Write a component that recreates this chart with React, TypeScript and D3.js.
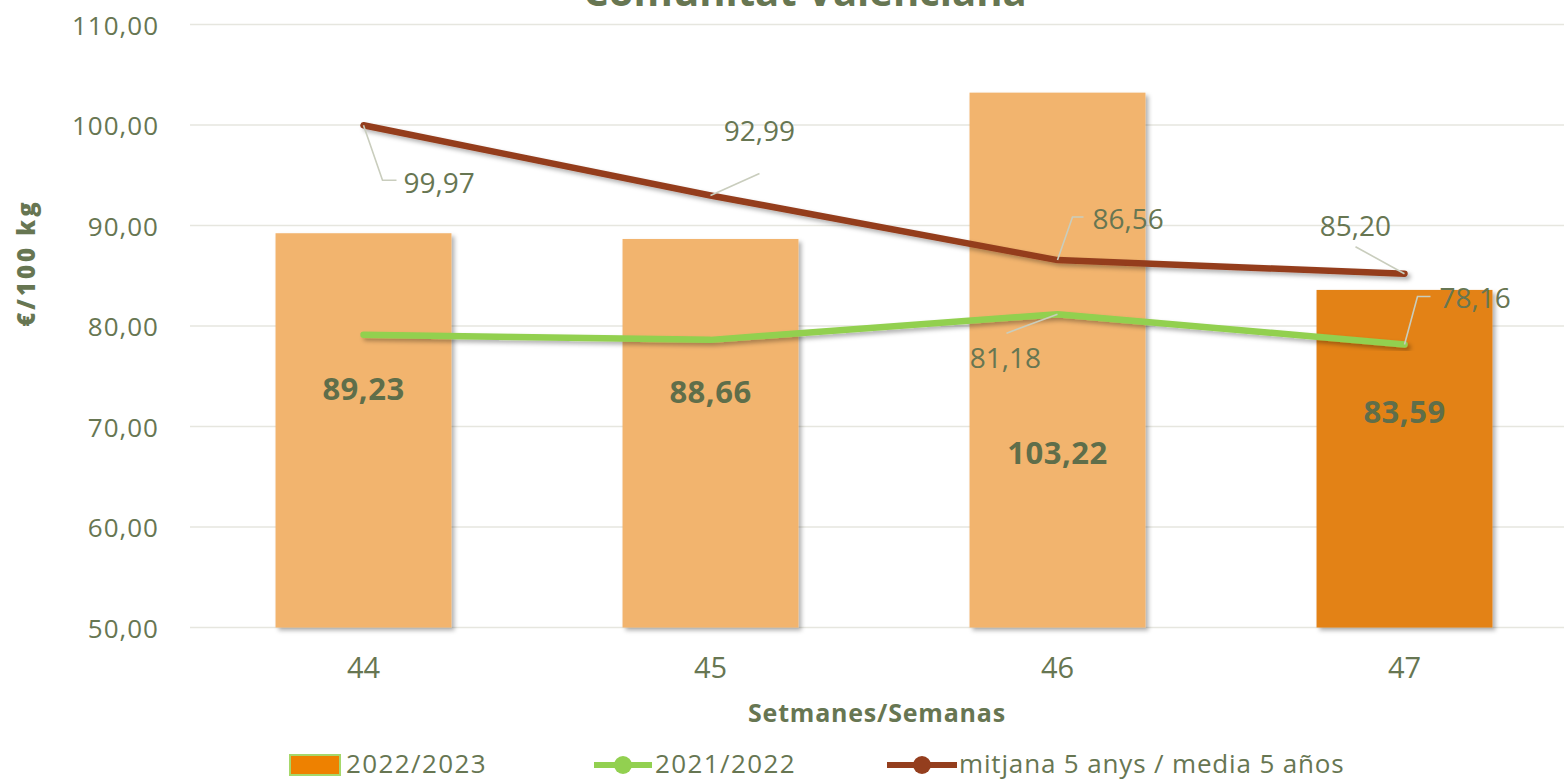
import React from "react";
import * as d3 from "d3";

const weeks = ["44", "45", "46", "47"];
const season2223 = [89.23, 88.66, 103.22, 83.59];
const season2122 = [79.13, 78.62, 81.18, 78.16];
const avg5 = [99.97, 92.99, 86.56, 85.2];
const yTicks = [50, 60, 70, 80, 90, 100, 110];
const seriesNames = ["2022/2023", "2021/2022", "mitjana 5 anys / media 5 años"];
const titleText = "Comunitat Valenciana";
const xTitle = "Setmanes/Semanas";
const yTitle = "€/100 kg";

// label placement (pixel offsets relative to the point)
const avgLabelLayout = [
  { leader: [[0, 0], [19, 55], [33, 55]], dx: 40, dy: 57, anchor: "start" },
  { leader: [[0, 0], [49, -22]], dx: 49, dy: -65, anchor: "middle" },
  { leader: [[0, 0], [15, -43], [26, -43]], dx: 35, dy: -42, anchor: "start" },
  { leader: [[0, 0], [-49, -27]], dx: -49, dy: -49, anchor: "middle" },
];
const prevLabelLayout = [
  null,
  null,
  { leader: [[0, 0], [-51, 19]], dx: -52, dy: 43, anchor: "middle" },
  { leader: [[0, 0], [13, -48], [26, -48]], dx: 35, dy: -47, anchor: "start" },
];
// bar label vertical anchors (in value units)
const barLabelAt = [73.85, 73.55, 67.5, 71.55];

const W = 1564;
const H = 780;
const TXT = "#677652";
const FONT = "'Open Sans', sans-serif";

export default function App() {
  const x = d3.scalePoint<string>().domain(weeks).range([190, 1578]).padding(0.5);
  const step = x.step();
  const barW = step * 0.507;
  const y = d3.scaleLinear().domain([50, 110]).range([627.5, 24.5]);
  const line = d3
    .line<number>()
    .x((_, i) => x(weeks[i])!)
    .y((d) => y(d));
  const leaderPath = d3.line();

  const fmt = (v: number) => d3.format(".2f")(v).replace(".", ",");

  const labelBlock = (vals: number[], layout: any[]) =>
    vals.map((v, i) => {
      const L = layout[i];
      if (!L) return null;
      const px = x(weeks[i])!;
      const py = y(v);
      const pts = L.leader.map((p: number[]) => [px + p[0], py + p[1]] as [number, number]);
      return (
        <g key={i}>
          <path d={leaderPath(pts)!} fill="none" stroke="#C9CDBD" strokeWidth={1.6} />
          <text
            x={px + L.dx}
            y={py + L.dy}
            textAnchor={L.anchor}
            dominantBaseline="central"
            fontFamily={FONT}
            fontSize={28}
            fill={TXT}
          >
            {fmt(v)}
          </text>
        </g>
      );
    });

  return (
    <div style={{ position: "fixed", left: 0, top: 0, width: W, height: H, background: "#fff" }}>
      <svg width={W} height={H} style={{ display: "block" }}>
        <defs>
          <filter id="sh" x="-10%" y="-10%" width="130%" height="130%">
            <feDropShadow dx="3" dy="3" stdDeviation="2" floodColor="#000" floodOpacity="0.3" />
          </filter>
        </defs>
        <rect width={W} height={H} fill="#fff" />
        {/* title (cut off at the top, as in the reference) */}
        <text x={805} y={6} textAnchor="middle" fontFamily={FONT} fontWeight={700} fontSize={40} fill={TXT}>
          {titleText}
        </text>
        {/* gridlines */}
        {yTicks.map((t) => (
          <line key={t} x1={190} x2={1578} y1={y(t)} y2={y(t)} stroke="#E6E6DF" strokeWidth={1.5} />
        ))}
        {yTicks.map((t) => (
          <text
            key={"l" + t}
            x={159}
            y={y(t)}
            textAnchor="end"
            dominantBaseline="central"
            fontFamily={FONT}
            fontSize={26}
            letterSpacing={1}
            fill={TXT}
          >
            {fmt(t)}
          </text>
        ))}
        {/* bars */}
        {season2223.map((v, i) => (
          <rect
            key={i}
            x={x(weeks[i])! - barW / 2}
            y={y(v)}
            width={barW}
            height={y(50) - y(v)}
            fill={i === season2223.length - 1 ? "#E38217" : "#F2B46E"}
            filter="url(#sh)"
          />
        ))}
        {/* bar labels */}
        {season2223.map((v, i) => (
          <text
            key={"b" + i}
            x={x(weeks[i])!}
            y={y(barLabelAt[i])}
            textAnchor="middle"
            dominantBaseline="central"
            fontFamily={FONT}
            fontWeight={700}
            fontSize={31}
            letterSpacing={0.5}
            fill="#5F6E4A"
          >
            {fmt(v)}
          </text>
        ))}
        {/* lines */}
        <path d={line(season2122)!} fill="none" stroke="#92D050" strokeWidth={6.5} strokeLinecap="round" strokeLinejoin="round" filter="url(#sh)" />
        <path d={line(avg5)!} fill="none" stroke="#943E1E" strokeWidth={6.5} strokeLinecap="round" strokeLinejoin="round" filter="url(#sh)" />
        {labelBlock(avg5, avgLabelLayout)}
        {labelBlock(season2122, prevLabelLayout)}
        {/* x axis ticks */}
        {weeks.map((w) => (
          <text
            key={"x" + w}
            x={x(w)!}
            y={666}
            textAnchor="middle"
            dominantBaseline="central"
            fontFamily={FONT}
            fontSize={29}
            fill={TXT}
          >
            {w}
          </text>
        ))}
        <text x={877} y={712} textAnchor="middle" dominantBaseline="central" fontFamily={FONT} fontWeight={700} fontSize={25} letterSpacing={0.8} fill={TXT}>
          {xTitle}
        </text>
        <text
          transform="translate(25,263) rotate(-90)"
          textAnchor="middle"
          dominantBaseline="central"
          fontFamily={FONT}
          fontWeight={800}
          fontSize={24}
          letterSpacing={3}
          fill={TXT}
        >
          {yTitle}
        </text>
        {/* legend */}
        <rect x={290} y={755} width={50} height={20} fill="#EE8100" stroke="#A6D86A" strokeWidth={2} />
        <text x={346} y={763} dominantBaseline="central" fontFamily={FONT} fontSize={26} letterSpacing={1.4} fill={TXT}>
          {seriesNames[0]}
        </text>
        <line x1={594} x2={652} y1={765} y2={765} stroke="#92D050" strokeWidth={6} />
        <circle cx={623} cy={765} r={9} fill="#92D050" />
        <text x={655} y={763} dominantBaseline="central" fontFamily={FONT} fontSize={26} letterSpacing={1.4} fill={TXT}>
          {seriesNames[1]}
        </text>
        <line x1={887} x2={957} y1={765} y2={765} stroke="#943E1E" strokeWidth={6} />
        <circle cx={922} cy={765} r={9} fill="#943E1E" />
        <text x={959} y={763} dominantBaseline="central" fontFamily={FONT} fontSize={26} letterSpacing={0.85} fill={TXT}>
          {seriesNames[2]}
        </text>
      </svg>
    </div>
  );
}
